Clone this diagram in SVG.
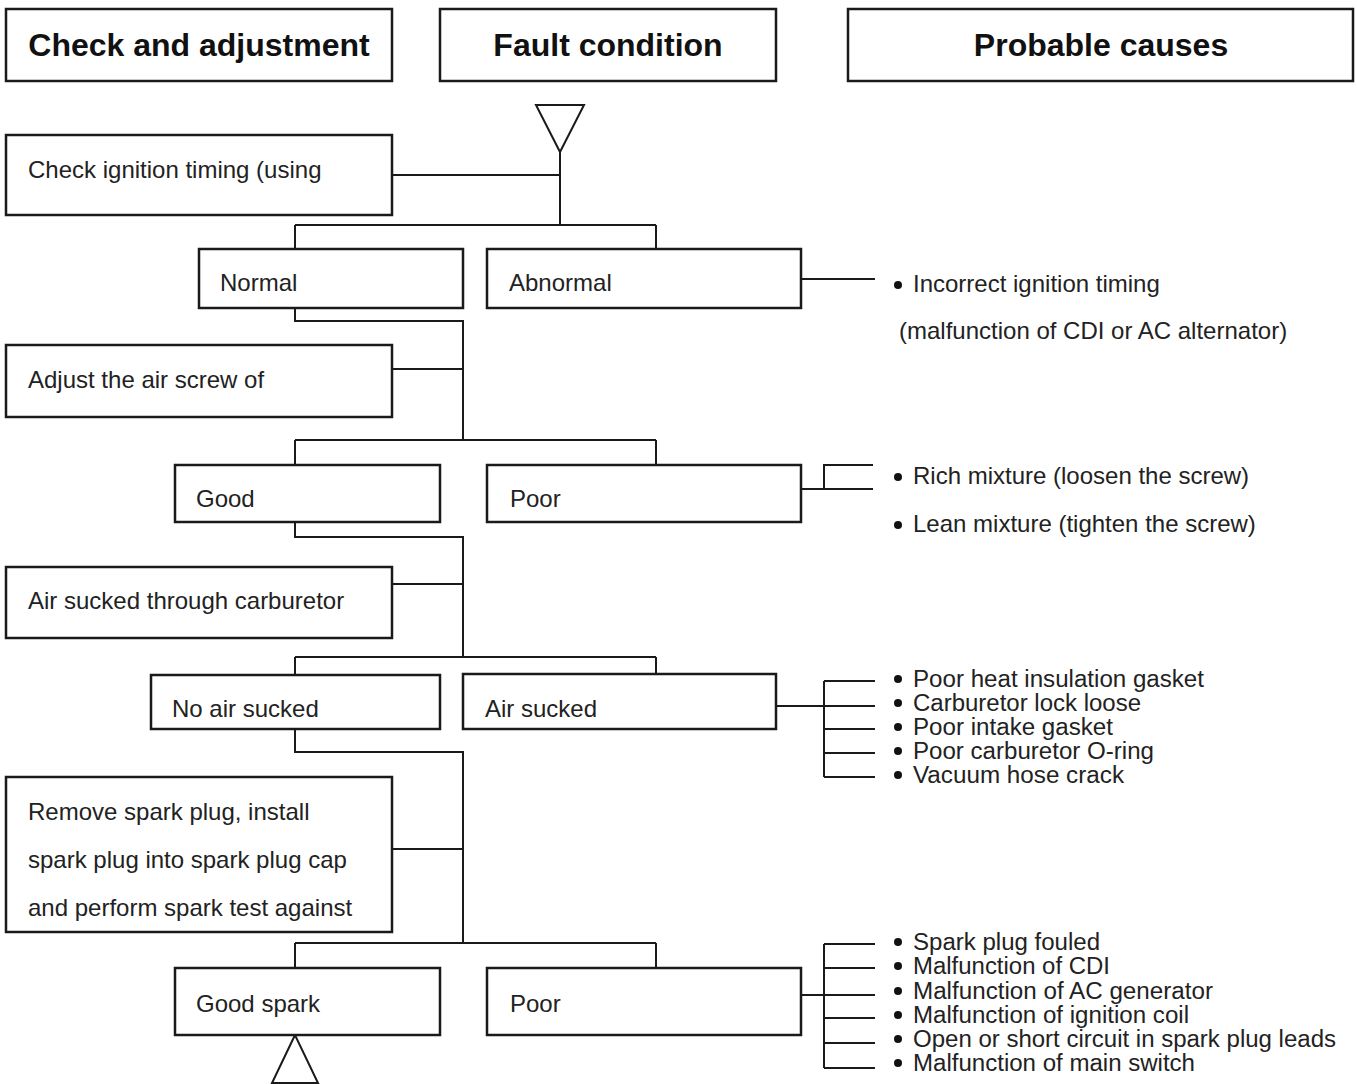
<svg xmlns="http://www.w3.org/2000/svg" width="1357" height="1084" viewBox="0 0 1357 1084">
  <style>
    .box { fill: #fff; stroke: #1a1a1a; stroke-width: 2.5; }
    .ln { fill: none; stroke: #1a1a1a; stroke-width: 2; }
    .hd { font-family: "Liberation Sans", Arial, sans-serif; font-weight: bold; font-size: 32px; fill: #111; text-anchor: middle; }
    .t { font-family: "Liberation Sans", Arial, sans-serif; font-size: 24px; fill: #222; }
    .c { font-family: "Liberation Sans", Arial, sans-serif; font-size: 23px; fill: #222; }
    .dot { fill: #111; }
  </style>
  <rect width="1357" height="1084" fill="#fff"/>

  <!-- column headers -->
  <g id="hdr-check"><rect class="box" x="6" y="9" width="386" height="72"/><text class="hd" x="199" y="56">Check and adjustment</text></g>
  <g id="hdr-fault"><rect class="box" x="440" y="9" width="336" height="72"/><text class="hd" x="608" y="56">Fault condition</text></g>
  <g id="hdr-causes"><rect class="box" x="848" y="9" width="505" height="72"/><text class="hd" x="1101" y="56">Probable causes</text></g>

  <!-- connectors -->
  <g id="connectors">
    <polygon class="ln" points="536,105 584,105 560,152"/>
    <path class="ln" d="M560 152 V225 M392 175 H560 M295 225 H656 M295 225 V249 M656 225 V249"/>
    <path class="ln" d="M801 279 H875"/>
    <path class="ln" d="M295 298 V321 H463 V440 M392 369 H463 M295 440 H656 M295 440 V465 M656 440 V465"/>
    <path class="ln" d="M801 489 H873 M824 489 V465 H873"/>
    <path class="ln" d="M295 515 V537 H463 V657 M392 584 H463 M295 657 H656 M295 657 V675 M656 657 V681"/>
    <path class="ln" d="M776 706 H875 M824 681 V777 M824 681 H875 M824 729 H875 M824 753 H875 M824 777 H875"/>
    <path class="ln" d="M295 729 V752 H463 V943 M392 849 H463 M295 943 H656 M295 943 V968 M656 943 V968"/>
    <path class="ln" d="M801 995 H875 M824 944 V1068 M824 944 H875 M824 968 H875 M824 1018 H875 M824 1043 H875 M824 1068 H875"/>
    <path class="ln" d="M295 1013 V1035"/>
    <polygon class="ln" points="295,1035 272,1083 318,1083"/>
  </g>

  <!-- check / adjustment steps -->
  <g id="step-timing"><rect class="box" x="6" y="135" width="386" height="80"/><text class="t" x="28" y="178">Check ignition timing (using</text></g>
  <g id="step-airscrew"><rect class="box" x="6" y="345" width="386" height="72"/><text class="t" x="28" y="388">Adjust the air screw of</text></g>
  <g id="step-carb"><rect class="box" x="6" y="567" width="386" height="71"/><text class="t" x="28" y="609">Air sucked through carburetor</text></g>
  <g id="step-spark"><rect class="box" x="6" y="777" width="386" height="155"/>
    <text class="t" x="28" y="820">Remove spark plug, install</text>
    <text class="t" x="28" y="868">spark plug into spark plug cap</text>
    <text class="t" x="28" y="916">and perform spark test against</text>
  </g>

  <!-- fault conditions -->
  <g id="f-normal"><rect class="box" x="199" y="249" width="264" height="59"/><text class="t" x="220" y="291">Normal</text></g>
  <g id="f-abnormal"><rect class="box" x="487" y="249" width="314" height="59"/><text class="t" x="509" y="291">Abnormal</text></g>
  <g id="f-good"><rect class="box" x="175" y="465" width="265" height="57"/><text class="t" x="196" y="507">Good</text></g>
  <g id="f-poor1"><rect class="box" x="487" y="465" width="314" height="57"/><text class="t" x="510" y="507">Poor</text></g>
  <g id="f-noair"><rect class="box" x="151" y="675" width="289" height="54"/><text class="t" x="172" y="717">No air sucked</text></g>
  <g id="f-air"><rect class="box" x="463" y="674" width="313" height="55"/><text class="t" x="485" y="717">Air sucked</text></g>
  <g id="f-goodspark"><rect class="box" x="175" y="968" width="265" height="67"/><text class="t" x="196" y="1012">Good spark</text></g>
  <g id="f-poor2"><rect class="box" x="487" y="968" width="314" height="67"/><text class="t" x="510" y="1012">Poor</text></g>

  <!-- probable causes -->
  <g id="c-timing">
    <circle class="dot" cx="898" cy="285" r="4"/>
    <text class="t" x="913" y="292">Incorrect ignition timing</text>
    <text class="t" x="899" y="339">(malfunction of CDI or AC alternator)</text>
  </g>
  <g id="c-mixture">
    <circle class="dot" cx="898" cy="477" r="4"/>
    <text class="t" x="913" y="484">Rich mixture (loosen the screw)</text>
    <circle class="dot" cx="898" cy="525" r="4"/>
    <text class="t" x="913" y="532">Lean mixture (tighten the screw)</text>
  </g>
  <g id="c-airleak">
    <circle class="dot" cx="898" cy="679" r="4"/><text class="c" x="913" y="687" textLength="291" lengthAdjust="spacingAndGlyphs">Poor heat insulation gasket</text>
    <circle class="dot" cx="898" cy="703" r="4"/><text class="c" x="913" y="711" textLength="228" lengthAdjust="spacingAndGlyphs">Carburetor lock loose</text>
    <circle class="dot" cx="898" cy="727" r="4"/><text class="c" x="913" y="735" textLength="200" lengthAdjust="spacingAndGlyphs">Poor intake gasket</text>
    <circle class="dot" cx="898" cy="751" r="4"/><text class="c" x="913" y="759" textLength="241" lengthAdjust="spacingAndGlyphs">Poor carburetor O-ring</text>
    <circle class="dot" cx="898" cy="775" r="4"/><text class="c" x="913" y="783" textLength="211" lengthAdjust="spacingAndGlyphs">Vacuum hose crack</text>
  </g>
  <g id="c-spark">
    <circle class="dot" cx="898" cy="942" r="4"/><text class="c" x="913" y="950" textLength="187" lengthAdjust="spacingAndGlyphs">Spark plug fouled</text>
    <circle class="dot" cx="898" cy="966" r="4"/><text class="c" x="913" y="974" textLength="197" lengthAdjust="spacingAndGlyphs">Malfunction of CDI</text>
    <circle class="dot" cx="898" cy="991" r="4"/><text class="c" x="913" y="999" textLength="300" lengthAdjust="spacingAndGlyphs">Malfunction of AC generator</text>
    <circle class="dot" cx="898" cy="1015" r="4"/><text class="c" x="913" y="1023" textLength="276" lengthAdjust="spacingAndGlyphs">Malfunction of ignition coil</text>
    <circle class="dot" cx="898" cy="1039" r="4"/><text class="c" x="913" y="1047" textLength="423" lengthAdjust="spacingAndGlyphs">Open or short circuit in spark plug leads</text>
    <circle class="dot" cx="898" cy="1063" r="4"/><text class="c" x="913" y="1071" textLength="282" lengthAdjust="spacingAndGlyphs">Malfunction of main switch</text>
  </g>
</svg>
